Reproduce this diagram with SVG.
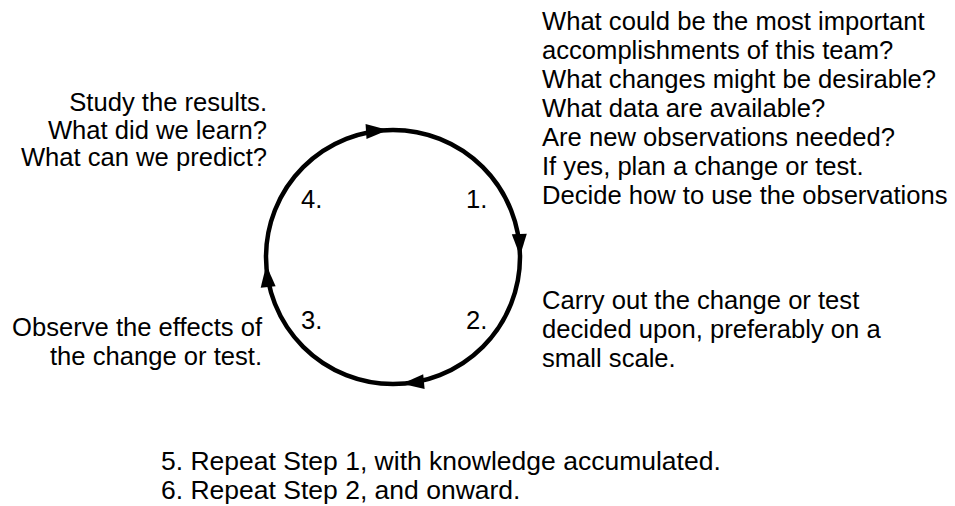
<svg xmlns="http://www.w3.org/2000/svg" width="955" height="506" viewBox="0 0 955 506">
<style>
  text { font-family: "Liberation Sans", Arial, sans-serif; font-size: 25.6px; fill: #000; }
  .r { text-anchor: end; }
  .big { font-size: 26.5px; }
  .ring { fill: none; stroke: #000; stroke-width: 4.5; }
</style>
<defs>
  <path id="ah" d="M3,0 L-19,-7.5 L-19,7.5 Z" fill="#000"/>
</defs>
<rect width="955" height="506" fill="#fff"/>
<g id="connectors">
  <circle class="ring" cx="393" cy="257" r="127"/>
  <use href="#ah" transform="translate(385,130.3) rotate(-3.6)"/>
  <use href="#ah" transform="translate(519.9,253) rotate(88.2)"/>
  <use href="#ah" transform="translate(405,383.4) rotate(174.6)"/>
  <use href="#ah" transform="translate(266.5,268.1) rotate(265)"/>
</g>
<g id="step1">
  <text x="466" y="208">1.</text>
  <text x="542" y="30">What could be the most important</text>
  <text x="542" y="59">accomplishments of this team?</text>
  <text x="542" y="88">What changes might be desirable?</text>
  <text x="542" y="117">What data are available?</text>
  <text x="542" y="146">Are new observations needed?</text>
  <text x="542" y="175">If yes, plan a change or test.</text>
  <text x="542" y="204">Decide how to use the observations</text>
</g>
<g id="step2">
  <text x="466" y="329">2.</text>
  <text x="542" y="309">Carry out the change or test</text>
  <text x="542" y="338">decided upon, preferably on a</text>
  <text x="542" y="367">small scale.</text>
</g>
<g id="step3">
  <text x="301" y="329">3.</text>
  <text class="r" x="262" y="336">Observe the effects of</text>
  <text class="r" x="262" y="365">the change or test.</text>
</g>
<g id="step4">
  <text x="301" y="208">4.</text>
  <text class="r" x="267" y="111">Study the results.</text>
  <text class="r" x="267" y="139">What did we learn?</text>
  <text class="r" x="267" y="166">What can we predict?</text>
</g>
<g id="repeat">
  <text class="big" x="161" y="470">5. Repeat Step 1, with knowledge accumulated.</text>
  <text class="big" x="161" y="499">6. Repeat Step 2, and onward.</text>
</g>
</svg>
